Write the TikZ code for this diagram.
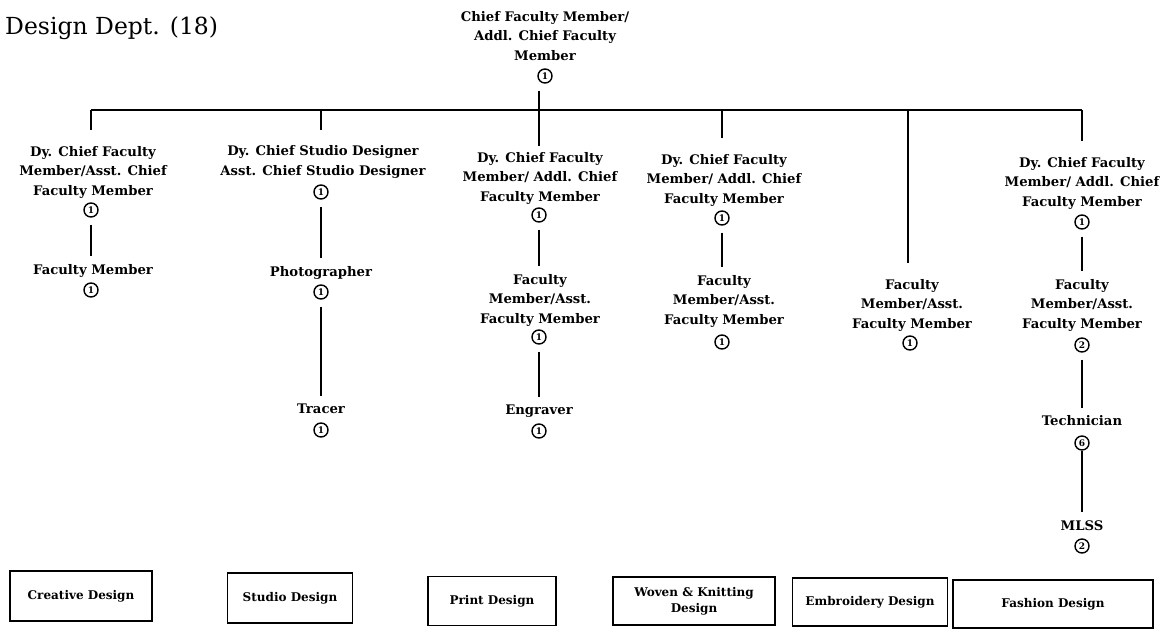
\documentclass[tikz,border=0pt]{standalone}
\usepackage{fontspec}
\setmainfont{DejaVu Serif}
\begin{document}
\begin{tikzpicture}[x=1pt,y=-1pt,
  role/.style={align=center, font=\bfseries\fontsize{13.2}{19.5}\selectfont, inner sep=0pt},
  num/.style={circle, draw, line width=1.4pt, minimum size=14pt, inner sep=0pt, font=\bfseries\fontsize{9}{9}\selectfont},
  unit/.style={draw, line width=1.7pt, align=center, font=\bfseries\fontsize{12}{16}\selectfont, inner sep=0pt},
  link/.style={line width=1.8pt},
  dn/.style={shorten <=7pt, shorten >=8pt}
]
\useasboundingbox (0,0) rectangle (1160,638);

% title
\node[anchor=west, font=\fontsize{23.5}{28}\selectfont, inner sep=0pt] (title) at (5,28) {Design Dept. (18)};

% top
\node[role] (top) at (545,36) {Chief Faculty Member/\\Addl. Chief Faculty\\Member};
\node[num] (topn) at (545,76) {1};

% bar coordinates
\coordinate (b1) at (91,110);
\coordinate (b2) at (321,110);
\coordinate (b3) at (539,110);
\coordinate (b4) at (722,110);
\coordinate (b5) at (908,110);
\coordinate (b6) at (1082,110);
\draw[link] (b1) -- (b6);

% column 1
\node[role] (c1a) at (93,172) {Dy. Chief Faculty\\Member/Asst. Chief\\Faculty Member};
\node[num] (c1an) at (91,210) {1};
\node[role] (c1b) at (93,271) {Faculty Member};
\node[num] (c1bn) at (91,290) {1};

% column 2
\node[role] (c2a) at (323,162) {Dy. Chief Studio Designer\\Asst. Chief Studio Designer};
\node[num] (c2an) at (321,192) {1};
\node[role] (c2b) at (321,273) {Photographer};
\node[num] (c2bn) at (321,292) {1};
\node[role] (c2c) at (321,409) {Tracer};
\node[num] (c2cn) at (321,430) {1};

% column 3
\node[role] (c3a) at (540,178) {Dy. Chief Faculty\\Member/ Addl. Chief\\Faculty Member};
\node[num] (c3an) at (539,215) {1};
\node[role] (c3b) at (540,300) {Faculty\\Member/Asst.\\Faculty Member};
\node[num] (c3bn) at (539,337) {1};
\node[role] (c3c) at (539,411) {Engraver};
\node[num] (c3cn) at (539,431) {1};

% column 4
\node[role] (c4a) at (724,180) {Dy. Chief Faculty\\Member/ Addl. Chief\\Faculty Member};
\node[num] (c4an) at (722,218) {1};
\node[role] (c4b) at (724,301) {Faculty\\Member/Asst.\\Faculty Member};
\node[num] (c4bn) at (722,342) {1};

% column 5
\node[role] (c5a) at (912,305) {Faculty\\Member/Asst.\\Faculty Member};
\node[num] (c5an) at (910,343) {1};

% column 6
\node[role] (c6a) at (1082,183) {Dy. Chief Faculty\\Member/ Addl. Chief\\Faculty Member};
\node[num] (c6an) at (1082,222) {1};
\node[role] (c6b) at (1082,305) {Faculty\\Member/Asst.\\Faculty Member};
\node[num] (c6bn) at (1082,345) {2};
\node[role] (c6c) at (1082,421) {Technician};
\node[num] (c6cn) at (1082,443) {6};
\node[role] (c6d) at (1082,526) {MLSS};
\node[num] (c6dn) at (1082,546) {2};

% unit boxes
\node[unit, minimum width=142pt, minimum height=50pt] (u1) at (81,596) {Creative Design};
\node[unit, minimum width=125pt, minimum height=50pt] (u2) at (290,598) {Studio Design};
\node[unit, minimum width=128pt, minimum height=49pt] (u3) at (492,601) {Print Design};
\node[unit, minimum width=162pt, minimum height=48pt] (u4) at (694,601) {Woven \& Knitting\\Design};
\node[unit, minimum width=155pt, minimum height=48pt] (u5) at (870,602) {Embroidery Design};
\node[unit, minimum width=200pt, minimum height=48pt] (u6) at (1053,604) {Fashion Design};

% connectors
\draw[link, shorten <=7pt, shorten >=6pt] (topn.south -| b3) -- (c3a.north -| b3);
\draw[link, shorten >=16pt] (b1) -- (c1a.north -| b1);
\draw[link, shorten >=16pt] (b2) -- (c2a.north -| b2);
\draw[link, shorten >=16pt] (b4) -- (c4a.north -| b4);
\draw[link, shorten >=16pt] (b5) -- (c5a.north -| b5);
\draw[link, shorten >=16pt] (b6) -- (c6a.north -| b6);

\draw[link, dn] (c1an.south) -- (c1b.north -| c1an.south);
\draw[link, dn] (c2an.south) -- (c2b.north);
\draw[link, dn] (c2bn.south) -- (c2c.north);
\draw[link, dn] (c3an.south) -- (c3b.north -| c3an.south);
\draw[link, dn] (c3bn.south) -- (c3c.north);
\draw[link, dn] (c4an.south) -- (c4b.north -| c4an.south);
\draw[link, dn] (c6an.south) -- (c6b.north);
\draw[link, dn] (c6bn.south) -- (c6c.north);
\draw[link, shorten <=0pt, shorten >=9pt] (c6cn.south) -- (c6d.north);
\end{tikzpicture}
\end{document}
